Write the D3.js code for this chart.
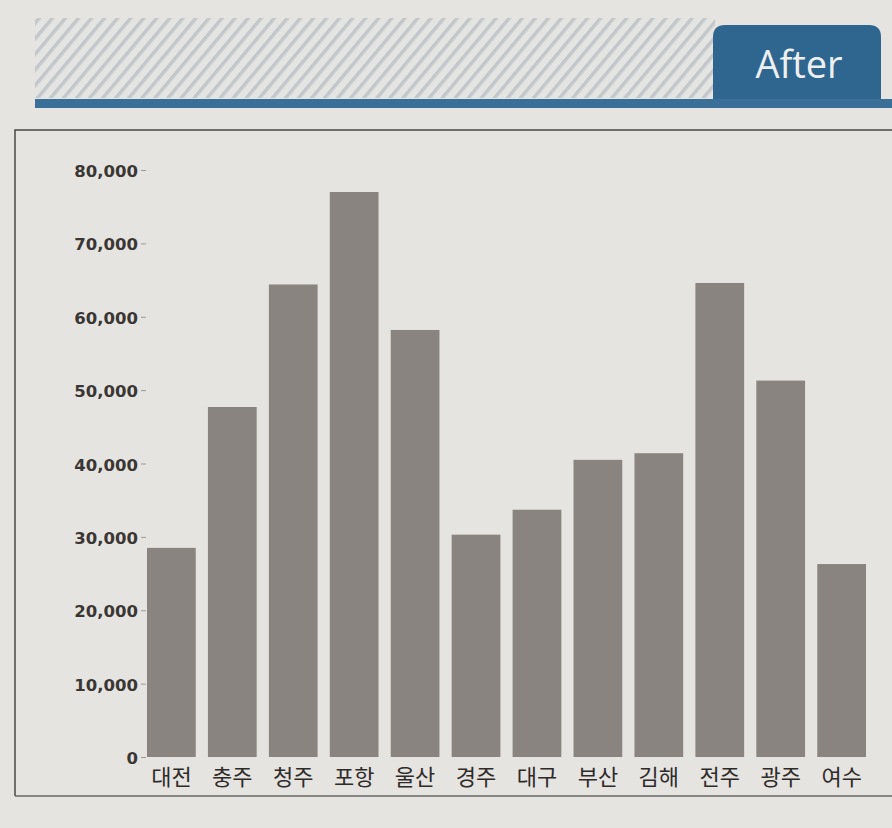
<!DOCTYPE html>
<html><head><meta charset="utf-8">
<script src="https://cdn.jsdelivr.net/npm/d3@7"></script>
<style>
html,body{margin:0;padding:0;background:#e6e4e0;}
svg{display:block;}
</style></head>
<body>
<svg id="chart" width="892" height="828"></svg>
<script>
const categories = ["대전","충주","청주","포항","울산","경주","대구","부산","김해","전주","광주","여수"];
const values = [28500, 47700, 64400, 77000, 58200, 30300, 33700, 40500, 41400, 64600, 51300, 26300];
const tickValues = [0,10000,20000,30000,40000,50000,60000,70000,80000];
const headerLabel = "After";

const svg = d3.select("#chart");
const W = 892, H = 828;
svg.append("rect").attr("width",W).attr("height",H).attr("fill","#e6e4e0");

// header hatch pattern
const defs = svg.append("defs");
const pat = defs.append("pattern").attr("id","hatch").attr("patternUnits","userSpaceOnUse")
  .attr("width",10).attr("height",10).attr("patternTransform","rotate(40)");
pat.append("rect").attr("width",10).attr("height",10).attr("fill","#e4e4e2");
pat.append("rect").attr("width",3.5).attr("height",10).attr("fill","#c4c7ca");
svg.append("rect").attr("x",35).attr("y",18).attr("width",680).attr("height",80).attr("fill","url(#hatch)");

// tab
const tx=713, ty=25, tw=168, th=78, r=12;
svg.append("path").attr("d",
  `M${tx},${ty+th} L${tx},${ty+r} Q${tx},${ty} ${tx+r},${ty} L${tx+tw-r},${ty} Q${tx+tw},${ty} ${tx+tw},${ty+r} L${tx+tw},${ty+th} Z`)
  .attr("fill","#2f6690");
svg.append("text").attr("x",tx+tw/2+2).attr("y",78).attr("text-anchor","middle")
  .attr("font-family","'Open Sans', 'Noto Sans', sans-serif").attr("font-size",38).attr("font-weight",500)
  .attr("fill","#eef0f0").text(headerLabel);
svg.append("rect").attr("x",35).attr("y",99).attr("width",W-35).attr("height",9).attr("fill","#3a6f98");

// frame
svg.append("path").attr("d","M15,796 L15,130 L892,130").attr("fill","none").attr("stroke","#4a4846").attr("stroke-width",1.5);
svg.append("line").attr("x1",15).attr("x2",892).attr("y1",796).attr("y2",796).attr("stroke","#6a6866").attr("stroke-width",1.5);

// scales
const x = d3.scaleBand().domain(categories).range([147,866]).paddingInner(0.2).paddingOuter(0.0);
const y = d3.scaleLinear().domain([0,80000]).range([757,170]);

// bars
svg.append("g").selectAll("rect").data(categories).join("rect")
  .attr("x",d=>x(d)).attr("width",x.bandwidth())
  .attr("y",(d,i)=>y(values[i])).attr("height",(d,i)=>y(0)-y(values[i]))
  .attr("fill","#8a8480");

// y axis
const yAxis = d3.axisLeft(y).tickValues(tickValues).tickSize(5).tickPadding(3)
  .tickFormat(d3.format(","));
const gy = svg.append("g").attr("transform","translate(146,0)").call(yAxis);
gy.select(".domain").remove();
gy.selectAll(".tick line").attr("stroke","#9a9896");
gy.selectAll(".tick text").attr("font-family","'DejaVu Sans', Verdana, sans-serif")
  .attr("font-size",16.5).attr("font-weight","bold").attr("fill","#3a3634").attr("dy","0.4em");

// x axis
const xAxis = d3.axisBottom(x).tickSize(0).tickPadding(12);
const gx = svg.append("g").attr("transform","translate(0,757)").call(xAxis);
gx.select(".domain").remove();
gx.selectAll(".tick text").attr("font-family","'Noto Sans CJK KR', sans-serif")
  .attr("font-size",22).attr("fill","#2e2b29");
</script>
</body></html>
